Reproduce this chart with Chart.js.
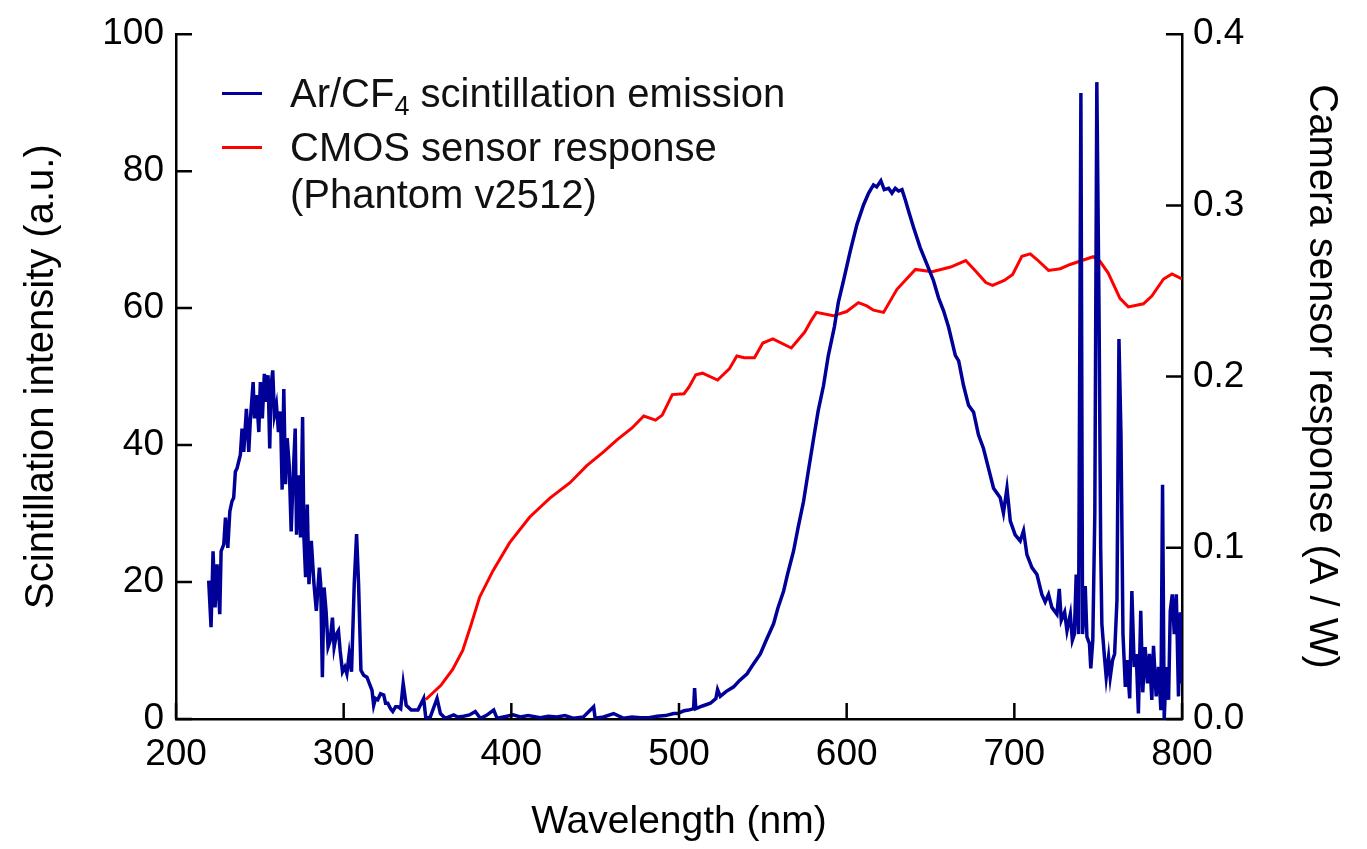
<!DOCTYPE html>
<html>
<head>
<meta charset="utf-8">
<title>Ar/CF4 scintillation vs CMOS response</title>
<script src="https://cdn.jsdelivr.net/npm/chart.js@4.4.1/dist/chart.umd.min.js"></script>
<style>
  body { margin: 0; background: #fff; }
  #wrap { position: relative; width: 1367px; height: 849px; }
  .legend { position: absolute; left: 222px; top: 66px; font-family: "Liberation Sans", Arial, sans-serif; font-size: 40px; color: #111; }
  .legend .row { position: relative; height: 54px; line-height: 54px; padding-left: 68px; white-space: nowrap; }
  .legend .row.cont { height: 44px; line-height: 40px; }
  .legend .swatch { position: absolute; left: 0; top: 26px; width: 40px; height: 3px; }
  .legend sub { font-size: 27px; line-height: 0; vertical-align: -8px; }
</style>
</head>
<body>
<div id="wrap">
  <canvas id="spectrum" width="1367" height="849"></canvas>
  <div class="legend">
    <div class="row"><span class="swatch" style="background:#000099"></span>Ar/CF<sub>4</sub> scintillation emission</div>
    <div class="row"><span class="swatch" style="background:#ff0000"></span>CMOS sensor response</div>
    <div class="row cont">(Phantom v2512)</div>
  </div>
</div>
<script>
// ── Ar/CF4 emission (left axis, a.u.) ──
const emissionWavelength = [
  219.5, 220.9, 222.1, 223.3, 224.5, 226.1, 226.9, 228.5, 229.5, 230.9,
  232.1, 233.4, 234.4, 235.4, 236.4, 237.4, 238.4, 239.4, 240.4, 242.0,
  243.4, 244.4, 246.0, 246.8, 248.0, 249.4, 250.3, 251.5, 252.7, 253.9,
  254.9, 255.9, 256.7, 257.7, 258.7, 259.9, 261.1, 262.3, 263.3, 264.3,
  265.3, 266.3, 267.5, 268.7, 269.9, 271.1, 271.9, 273.1, 274.3, 275.5,
  276.3, 277.3, 278.3, 279.3, 280.7, 282.3, 283.7, 285.5, 286.3, 287.3,
  288.3, 289.5, 290.7, 291.9, 293.3, 294.3, 295.7, 296.9, 297.9, 299.3,
  300.7, 301.9, 303.3, 304.7, 306.3, 307.7, 308.9, 310.3, 311.9, 313.9,
  315.3, 316.9, 317.9, 319.0, 320.3, 322.0, 323.9, 325.0, 326.3, 328.0,
  329.3, 331.0, 332.3, 334.0, 335.5, 337.3, 340.3, 344.3, 347.7, 349.0,
  351.7, 355.7, 357.7, 360.6, 365.6, 368.0, 371.5, 375.0, 378.5, 381.5,
  385.0, 389.5, 391.5, 397.4, 401.0, 405.4, 410.0, 417.3, 422.0, 427.2,
  432.0, 437.2, 443.0, 449.1, 450.0, 455.0, 461.0, 467.0, 472.0, 477.0,
  482.0, 486.9, 492.0, 496.8, 499.0, 503.0, 505.7, 508.7, 509.3, 510.0,
  514.0, 518.7, 522.0, 523.0, 524.6, 528.0, 532.6, 536.0, 540.6, 544.0,
  548.5, 552.0, 556.4, 559.0, 562.4, 565.0, 568.3, 571.0, 574.3, 577.0,
  580.3, 583.0, 586.2, 589.0, 592.7, 595.0, 598.1, 602.1, 606.1, 610.1,
  613.1, 616.0, 617.9, 620.4, 622.4, 625.0, 627.0, 629.0, 631.0, 633.0,
  635.0, 637.0, 640.0, 643.9, 647.9, 651.8, 654.8, 657.8, 660.8, 664.8,
  666.8, 669.7, 672.7, 675.7, 678.6, 681.6, 684.6, 687.6, 691.6, 693.5,
  695.6, 697.6, 700.5, 703.5, 705.5, 707.5, 710.5, 713.5, 716.4, 718.4,
  720.4, 722.4, 725.4, 726.8, 728.0, 730.0, 731.4, 733.4, 734.6, 735.8,
  736.9, 738.3, 739.7, 740.7, 742.3, 743.3, 744.8, 745.6, 746.8, 748.0,
  749.2, 750.5, 751.5, 752.2, 753.6, 754.8, 756.2, 757.2, 758.6, 759.8,
  761.2, 762.4, 763.6, 764.8, 766.2, 767.2, 768.8, 770.1, 771.5, 772.7,
  774.0, 775.4, 776.6, 778.0, 779.4, 780.6, 782.0, 783.0, 784.6, 786.0,
  787.4, 788.4, 789.4, 790.6, 792.0, 793.0, 794.2, 795.4, 796.6, 797.9,
  799.0, 800.0
];
const emissionIntensity = [
  20.2, 13.4, 24.5, 16.3, 22.6, 15.3, 24.5, 25.5, 29.4, 25.0,
  30.3, 31.8, 32.3, 36.1, 36.6, 37.6, 38.6, 42.4, 39.0, 45.3,
  39.0, 43.9, 49.2, 43.9, 47.3, 41.9, 49.2, 43.9, 50.4, 46.3,
  50.2, 39.5, 48.7, 50.9, 44.4, 45.9, 41.9, 44.9, 33.5, 48.2,
  34.3, 41.0, 37.1, 27.4, 35.6, 42.4, 26.9, 35.6, 26.5, 44.1,
  26.5, 20.7, 31.3, 19.7, 26.0, 19.7, 15.8, 22.1, 19.7, 6.1,
  19.2, 15.8, 10.5, 11.4, 14.8, 10.5, 12.4, 12.9, 10.0, 6.9,
  7.6, 6.6, 9.5, 6.9, 19.7, 27.0, 19.7, 7.1, 6.4, 6.1,
  5.2, 4.2, 2.0, 3.0, 2.8, 3.7, 3.5, 2.3, 2.3, 1.5,
  1.1, 1.8, 1.8, 1.5, 5.2, 2.0, 1.3, 1.3, 3.0, 0.1,
  0.3, 3.0, 0.8, 0.1, 0.6, 0.3, 0.4, 0.6, 1.1, 0.1,
  0.5, 1.3, 0.1, 0.4, 0.6, 0.3, 0.5, 0.2, 0.4, 0.3,
  0.5, 0.1, 0.3, 1.8, 0.1, 0.3, 0.8, 0.1, 0.3, 0.2,
  0.2, 0.4, 0.5, 0.8, 0.8, 1.2, 1.3, 1.5, 4.5, 1.5,
  1.9, 2.3, 3.0, 4.3, 3.3, 4.0, 4.7, 5.6, 6.6, 7.9,
  9.5, 11.5, 13.9, 16.2, 18.7, 21.4, 24.5, 27.9, 31.8, 36.0,
  41.0, 45.0, 48.7, 53.0, 57.3, 60.8, 64.0, 68.3, 72.2, 75.1,
  76.8, 78.0, 77.7, 78.6, 77.3, 77.5, 76.8, 77.5, 77.1, 77.3,
  75.8, 74.1, 71.7, 68.8, 66.4, 64.0, 61.5, 59.6, 57.2, 53.1,
  52.3, 48.7, 45.8, 44.8, 41.5, 39.5, 36.6, 33.7, 32.3, 30.1,
  33.7, 28.9, 26.9, 26.0, 27.5, 24.0, 22.1, 21.1, 18.2, 17.1,
  18.2, 16.3, 15.3, 19.0, 14.4, 15.6, 12.9, 15.3, 11.5, 12.4,
  21.1, 12.4, 91.4, 12.4, 19.4, 12.0, 11.0, 7.4, 11.5, 30.0,
  93.0, 60.0, 25.0, 13.9, 9.5, 6.1, 9.0, 6.1, 8.6, 9.5,
  17.3, 55.5, 41.5, 12.4, 4.7, 8.6, 3.0, 18.7, 7.6, 9.5,
  0.8, 15.8, 3.9, 10.5, 5.2, 9.5, 2.8, 10.7, 3.3, 7.6,
  1.3, 34.2, 0.0, 7.6, 2.8, 15.8, 18.2, 12.4, 18.2, 3.3,
  15.6, 5.2
];

// ── CMOS sensor response (right axis, A/W) ──
const sensorWavelength = [
  349, 358, 365, 371, 376, 381, 389, 399, 411, 423,
  435, 445, 455, 463, 472, 479, 486, 490, 496, 503,
  506, 510, 514, 523, 530, 534.5, 539, 545, 550, 556,
  567, 575, 579, 582, 592, 600, 607, 612, 616, 622,
  630, 641, 651, 662, 671, 677, 683, 687, 694, 699,
  704.5, 709.5, 713.5, 720.4, 727.4, 733.3, 747, 751, 756, 763,
  768, 777, 782, 789, 794, 800
];
const sensorResponse = [
  0.0114, 0.0197, 0.029, 0.040, 0.055, 0.071, 0.0865, 0.103, 0.118, 0.129,
  0.138, 0.148, 0.156, 0.163, 0.170, 0.177, 0.1746, 0.1775, 0.1895, 0.190,
  0.194, 0.201, 0.202, 0.198, 0.2045, 0.212, 0.211, 0.211, 0.2196, 0.222,
  0.2167, 0.226, 0.233, 0.2375, 0.2355, 0.238, 0.2432, 0.2413, 0.2388, 0.2375,
  0.251, 0.2626, 0.2612, 0.264, 0.2678, 0.2616, 0.2549, 0.2533, 0.2562, 0.2597,
  0.2703, 0.2717, 0.2684, 0.262, 0.263, 0.2655, 0.270, 0.2674, 0.2605, 0.2457,
  0.2407, 0.2425, 0.247, 0.257, 0.260, 0.257
];

// ── axis ticks ──
const xTicks = [200, 300, 400, 500, 600, 700, 800];
const yTicks = [0, 20, 40, 60, 80, 100];
const y2Ticks = [0, 0.1, 0.2, 0.3, 0.4];

const FONT = '"Liberation Sans", Arial, sans-serif';

const toPoints = (xs, ys) => xs.map((x, i) => ({ x: x, y: ys[i] }));

// ticks in this figure point into the plot area
const inwardTicks = {
  id: 'inwardTicks',
  afterDatasetsDraw(chart) {
    const { ctx, chartArea: a, scales } = chart;
    const len = 16;
    ctx.save();
    ctx.strokeStyle = '#000';
    ctx.lineWidth = 2.5;
    ctx.beginPath();
    xTicks.forEach(v => {
      const px = scales.x.getPixelForValue(v);
      ctx.moveTo(px, a.bottom); ctx.lineTo(px, a.bottom - len);
    });
    yTicks.forEach(v => {
      const py = scales.y.getPixelForValue(v);
      ctx.moveTo(a.left, py); ctx.lineTo(a.left + len, py);
    });
    y2Ticks.forEach(v => {
      const py = scales.y2.getPixelForValue(v);
      ctx.moveTo(a.right, py); ctx.lineTo(a.right - len, py);
    });
    ctx.stroke();
    ctx.restore();
  }
};

function initChart() {
  const ctx = document.getElementById('spectrum').getContext('2d');
  new Chart(ctx, {
    type: 'line',
    data: {
      datasets: [
        {
          label: 'Ar/CF4 scintillation emission',
          data: toPoints(emissionWavelength, emissionIntensity),
          yAxisID: 'y',
          borderColor: '#000099',
          borderWidth: 3.5,
          pointRadius: 0,
          tension: 0
        },
        {
          label: 'CMOS sensor response (Phantom v2512)',
          data: toPoints(sensorWavelength, sensorResponse),
          yAxisID: 'y2',
          borderColor: '#ff0000',
          borderWidth: 3,
          pointRadius: 0,
          tension: 0
        }
      ]
    },
    options: {
      responsive: false,
      animation: false,
      layout: { padding: { top: 30, right: 0, bottom: 0, left: 0 } },
      plugins: { legend: { display: false }, tooltip: { enabled: false } },
      scales: {
        x: {
          type: 'linear',
          min: 200, max: 800,
          afterBuildTicks: s => { s.ticks = xTicks.map(v => ({ value: v })); },
          afterFit: s => { s.height = 130; },
          grid: { display: false, drawTicks: false },
          border: { display: true, color: '#000', width: 2.5 },
          ticks: { color: '#000', padding: 14, maxRotation: 0, font: { family: FONT, size: 37 } },
          title: { display: true, text: 'Wavelength (nm)', color: '#000', padding: { top: 0, bottom: 3 }, font: { family: FONT, size: 39 } }
        },
        y: {
          position: 'left',
          min: 0, max: 100,
          afterBuildTicks: s => { s.ticks = yTicks.map(v => ({ value: v })); },
          afterFit: s => { s.width = 176; },
          grid: { display: false, drawTicks: false },
          border: { display: true, color: '#000', width: 2.5 },
          ticks: { color: '#000', padding: 12, font: { family: FONT, size: 37 } },
          title: { display: true, text: 'Scintillation intensity (a.u.)', color: '#000', padding: { top: 18, bottom: 0 }, font: { family: FONT, size: 40 } }
        },
        y2: {
          position: 'right',
          min: 0, max: 0.4,
          afterBuildTicks: s => { s.ticks = y2Ticks.map(v => ({ value: v })); },
          afterFit: s => { s.width = 185; },
          grid: { display: false, drawTicks: false },
          border: { display: true, color: '#000', width: 2.5 },
          ticks: { color: '#000', padding: 11, font: { family: FONT, size: 37 }, callback: v => v.toFixed(1) },
          title: { display: true, text: 'Camera sensor response (A / W)', color: '#000', padding: { top: 22, bottom: 0 }, font: { family: FONT, size: 40 } }
        }
      }
    },
    plugins: [inwardTicks]
  });
}

document.addEventListener('DOMContentLoaded', initChart);
</script>
</body>
</html>
